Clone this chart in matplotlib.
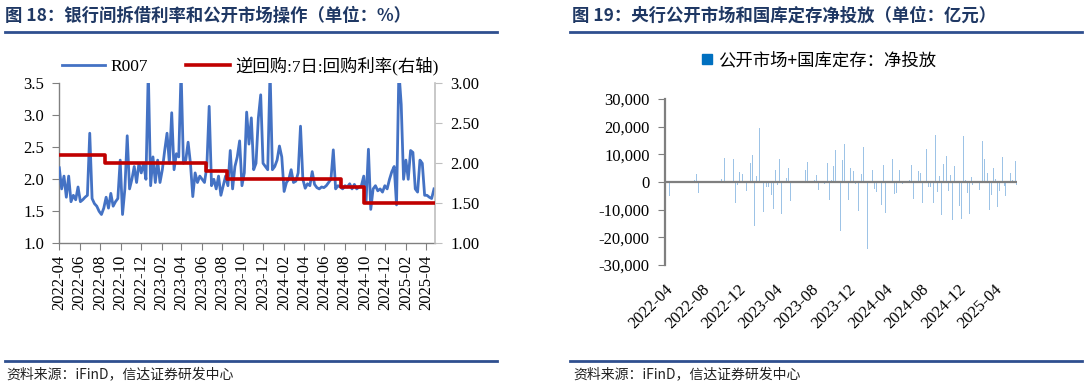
import matplotlib
matplotlib.use("Agg")
import matplotlib.pyplot as plt
from matplotlib.lines import Line2D
from matplotlib.ticker import FuncFormatter
import pandas as pd

# ---------------- data ----------------
r007_start = "2022-04-01"
r007_values = [
    2.18, 1.85, 2.05, 1.72, 2.05, 1.65, 1.75, 1.68, 1.88, 1.65,
    1.68, 1.72, 1.75, 2.72, 1.70, 1.62, 1.58, 1.50, 1.45, 1.55,
    1.72, 1.55, 1.78, 1.58, 1.65, 1.70, 2.30, 1.45, 1.85, 2.68,
    1.85, 2.00, 2.20, 1.95, 2.25, 2.10, 2.25, 2.00, 3.70, 1.90,
    2.35, 1.95, 2.30, 1.95, 2.15, 2.45, 2.72, 2.25, 3.04, 2.15,
    2.40, 2.35, 3.70, 2.25, 2.30, 2.58, 2.25, 1.73, 2.10, 1.95,
    2.05, 2.00, 1.95, 2.20, 3.14, 1.90, 2.00, 1.85, 2.05, 1.75,
    1.90, 2.05, 1.90, 2.45, 1.85, 2.20, 2.35, 2.60, 1.90, 2.10,
    3.05, 2.55, 2.96, 2.15, 2.25, 2.96, 3.32, 2.25, 2.20, 2.15,
    3.70, 2.15, 2.20, 2.30, 2.52, 2.35, 1.81, 1.95, 2.00, 2.15,
    1.95, 1.97, 2.10, 2.83, 2.00, 1.86, 1.93, 1.90, 2.12, 1.92,
    1.87, 1.85, 1.88, 1.87, 1.90, 1.95, 2.00, 2.46, 1.85, 1.90,
    1.88, 1.85, 1.90, 1.88, 1.93, 1.85, 1.92, 1.85, 1.88, 1.90,
    2.05, 1.65, 2.47, 1.53, 1.85, 1.90, 1.82, 1.85, 1.80, 1.90,
    1.85, 2.00, 2.12, 2.20, 1.60, 3.70, 3.17, 2.00, 2.30, 2.00,
    2.45, 2.42, 1.85, 1.80, 2.30, 2.25, 1.75, 1.75, 1.72, 1.70,
    1.85,
]

repo_dates = ["2022-04-01", "2022-08-15", "2023-06-13", "2023-08-15",
              "2024-07-22", "2024-09-27", "2025-04-28"]
repo_rates = [2.10, 2.00, 1.90, 1.80, 1.70, 1.50, 1.50]

left_ticks = ["2022-04", "2022-06", "2022-08", "2022-10", "2022-12",
              "2023-02", "2023-04", "2023-06", "2023-08", "2023-10",
              "2023-12", "2024-02", "2024-04", "2024-06", "2024-08",
              "2024-10", "2024-12", "2025-02", "2025-04"]

inj_dates = [
    "2022-04-17", "2022-07-07", "2022-07-14", "2022-07-21", "2022-10-07",
    "2022-10-15", "2022-10-28", "2022-11-14", "2022-11-21", "2022-11-28",
    "2022-12-04", "2022-12-10", "2022-12-16", "2022-12-27", "2023-01-10",
    "2023-01-16", "2023-01-23", "2023-01-30", "2023-02-10", "2023-02-22",
    "2023-02-28", "2023-03-05", "2023-03-12", "2023-03-22", "2023-03-29",
    "2023-04-04", "2023-04-11", "2023-04-18", "2023-04-25", "2023-05-11",
    "2023-05-18", "2023-05-24", "2023-06-16", "2023-07-01", "2023-07-13",
    "2023-07-20", "2023-07-28", "2023-08-13", "2023-08-19", "2023-08-25",
    "2023-09-09", "2023-09-14", "2023-09-25", "2023-10-01", "2023-10-08",
    "2023-10-15", "2023-10-21", "2023-11-07", "2023-11-14", "2023-11-21",
    "2023-11-28", "2023-12-04", "2023-12-10", "2023-12-19", "2023-12-25",
    "2024-01-04", "2024-01-10", "2024-01-16", "2024-01-22", "2024-02-03",
    "2024-02-09", "2024-02-16", "2024-02-22", "2024-02-28", "2024-03-05",
    "2024-03-22", "2024-03-28", "2024-04-04", "2024-04-11", "2024-04-28",
    "2024-05-04", "2024-05-10", "2024-05-22", "2024-06-01", "2024-06-08",
    "2024-06-22", "2024-06-30", "2024-07-07", "2024-07-22", "2024-07-29",
    "2024-08-06", "2024-08-19", "2024-08-25", "2024-09-01", "2024-09-12",
    "2024-09-19", "2024-09-25", "2024-10-01", "2024-10-08", "2024-10-15",
    "2024-10-23", "2024-11-01", "2024-11-07", "2024-11-14", "2024-11-21",
    "2024-11-28", "2024-12-07", "2024-12-13", "2024-12-19", "2024-12-27",
    "2025-01-03", "2025-01-10", "2025-01-16", "2025-01-19", "2025-01-27",
    "2025-02-03", "2025-02-10", "2025-02-16", "2025-02-22", "2025-02-28",
    "2025-03-10", "2025-03-16", "2025-03-23", "2025-03-30", "2025-04-05",
    "2025-04-11", "2025-04-19", "2025-04-28", "2025-05-04", "2025-05-10",
    "2025-05-17", "2025-05-24", "2025-06-01", "2025-06-10", "2025-06-13",
]
inj_values = [
    -5000, 600, 3000, -3900, 1000, 8700, -9400, 8400, -7500, -1000,
    3600, -3900, 3000, -3100, 7000, 9900, -16000, 2000, 19600, -10800,
    6000, -1800, -1800, -4600, -9900, 4200, -1000, 8200, -11400, 1400,
    5200, -7000, -500, 400, 4200, 7100, -11400, 600, 2400, -2900,
    7600, -600, 6700, -6600, 600, 5700, 11700, -17800, 7800, 13700,
    -9300, -6400, 5200, 4100, -600, -10500, 2000, 2900, 12600, -24200,
    -1800, 13400, 4200, -2400, -3600, -8400, 6300, -11100, -500, 8200,
    -4300, -4000, 4400, -800, -4300, 600, 6000, -6000, 3900, 3400,
    -7500, 11800, -1900, -1900, -7600, 16900, -3600, 2000, -12000, 6600,
    9300, -3400, 2400, -13600, 5700, 12700, -8700, -13300, 16500, 600,
    -4000, -11400, 1800, -1200, 11400, -11100, -2800, -2400, 14700, 8200,
    3300, -10200, -4800, 4900, 1200, -9000, -3300, 8900, -1600, -5100,
    -3000, 3300, 600, 7500, -1000,
]
right_ticks = ["2022-04", "2022-08", "2022-12", "2023-04", "2023-08",
               "2023-12", "2024-04", "2024-08", "2024-12", "2025-04"]

title_left = "图 18：银行间拆借利率和公开市场操作（单位：%）"
title_right = "图 19：央行公开市场和国库定存净投放（单位：亿元）"
source_text = "资料来源：iFinD，信达证券研发中心"
r007_label = "R007"
repo_label = "逆回购:7日:回购利率(右轴)"
inj_label = "公开市场+国库定存：净投放"

# ---------------- style ----------------
W, H = 1085, 387
SERIF = ["Liberation Serif", "Noto Sans CJK SC"]
CJK = ["Noto Sans CJK SC", "DejaVu Sans"]
TITLE_C = "#1F3864"
LINE_C = "#2F4F8F"

fig = plt.figure(figsize=(W / 100, H / 100), dpi=100)
fig.patch.set_facecolor("white")

def fx(px):
    return px / W

def fy(py):
    return 1 - py / H

# ---------------- left chart ----------------
axL = fig.add_axes([fx(59.3), fy(243.3), fx(435 - 59.3), fy(83.3) - fy(243.3)])
r007_dates = pd.date_range(r007_start, periods=len(r007_values), freq="7D")
l1, = axL.plot(r007_dates, r007_values, color="#4472C4", lw=2.0, zorder=3)
axL.set_ylim(1.0, 3.5)
axL.set_yticks([1.0, 1.5, 2.0, 2.5, 3.0, 3.5])
axL.yaxis.set_major_formatter(FuncFormatter(lambda v, p: f"{v:.1f}"))
axL.set_xlim(pd.Timestamp("2022-04-01"), pd.Timestamp("2025-04-28"))
axL.set_xticks(pd.to_datetime([t + "-01" for t in left_ticks]))
axL.set_xticklabels(left_ticks, rotation=90, fontfamily=SERIF, fontsize=12)
for lab in axL.get_yticklabels():
    lab.set_fontfamily(SERIF)
    lab.set_fontsize(12)
axL.tick_params(axis="y", direction="out", length=5, color="#808080", pad=6)
axL.tick_params(axis="x", direction="out", length=5, color="#808080", pad=3)
for s in ["top", "right"]:
    axL.spines[s].set_visible(False)
for s in ["left", "bottom"]:
    axL.spines[s].set_color("#808080")
    axL.spines[s].set_linewidth(1.0)

axR = axL.twinx()
l2, = axR.plot(pd.to_datetime(repo_dates), repo_rates, color="#C00000", lw=2.6,
               drawstyle="steps-post", zorder=4)
axR.set_ylim(1.0, 3.0)
axR.set_yticks([1.0, 1.5, 2.0, 2.5, 3.0])
axR.yaxis.set_major_formatter(FuncFormatter(lambda v, p: f"{v:.2f}"))
for lab in axR.get_yticklabels():
    lab.set_fontfamily(SERIF)
    lab.set_fontsize(12)
axR.tick_params(axis="y", direction="out", length=5, color="#BFBFBF", pad=6)
for s in ["top", "left", "bottom"]:
    axR.spines[s].set_visible(False)
axR.spines["right"].set_color("#BFBFBF")
axR.spines["right"].set_linewidth(1.2)

fig.legend([l1, l2], [r007_label, repo_label], loc="center",
           bbox_to_anchor=(fx(250), fy(66)), ncol=2, frameon=False,
           handlelength=2.5, columnspacing=2.2, handletextpad=0.3,
           prop={"family": SERIF, "size": 12.5})

# ---------------- right chart ----------------
axB = fig.add_axes([fx(665), fy(265), fx(1017 - 665), fy(99) - fy(265)])
axB.bar(pd.to_datetime(inj_dates), inj_values, width=2.8, color="#9DC3E6",
        linewidth=0, zorder=2)
axB.axhline(0, color="#7F7F7F", lw=1.6, zorder=3)
axB.set_ylim(-30000, 30000)
axB.set_yticks([-30000, -20000, -10000, 0, 10000, 20000, 30000])
axB.yaxis.set_major_formatter(FuncFormatter(lambda v, p: f"{int(v):,}"))
for lab in axB.get_yticklabels():
    lab.set_fontfamily(SERIF)
    lab.set_fontsize(12)
axB.set_xlim(pd.Timestamp("2022-04-01"), pd.Timestamp("2025-06-16"))
axB.set_xticks(pd.to_datetime([t + "-01" for t in right_ticks]))
axB.set_xticklabels(right_ticks, rotation=45, ha="right",
                    rotation_mode="anchor", fontfamily=SERIF, fontsize=12)
axB.tick_params(axis="x", length=0, pad=12)
axB.tick_params(axis="y", direction="out", length=5, color="#7F7F7F", pad=6)
for s in ["top", "right", "bottom"]:
    axB.spines[s].set_visible(False)
axB.spines["left"].set_color("#7F7F7F")
axB.spines["left"].set_linewidth(1.6)

inj_handle = Line2D([], [], marker="s", linestyle="none", color="#0070C0",
                    markersize=7)
fig.legend([inj_handle], [inj_label], loc="center",
           bbox_to_anchor=(fx(818), fy(60)), frameon=False,
           handletextpad=0.2, handlelength=0.8,
           prop={"family": CJK, "size": 12.5})

# ---------------- titles, rules, sources ----------------
fig.text(fx(5), fy(16), title_left, fontfamily=CJK, fontsize=12.5,
         fontweight="bold", color=TITLE_C, va="center", ha="left")
fig.text(fx(572), fy(16), title_right, fontfamily=CJK, fontsize=12.5,
         fontweight="bold", color=TITLE_C, va="center", ha="left")
for x0, x1 in [(5, 497), (570, 1082)]:
    fig.add_artist(Line2D([fx(x0), fx(x1)], [fy(32), fy(32)], color=LINE_C, lw=2))
    fig.add_artist(Line2D([fx(x0), fx(x1)], [fy(361), fy(361)], color=LINE_C, lw=2))
fig.text(fx(6), fy(374), source_text, fontfamily=CJK, fontsize=10,
         color="#222222", va="center", ha="left", style="italic")
fig.text(fx(573), fy(374), source_text, fontfamily=CJK, fontsize=10,
         color="#222222", va="center", ha="left", style="italic")

fig.savefig("out.png", dpi=100, facecolor="white")
